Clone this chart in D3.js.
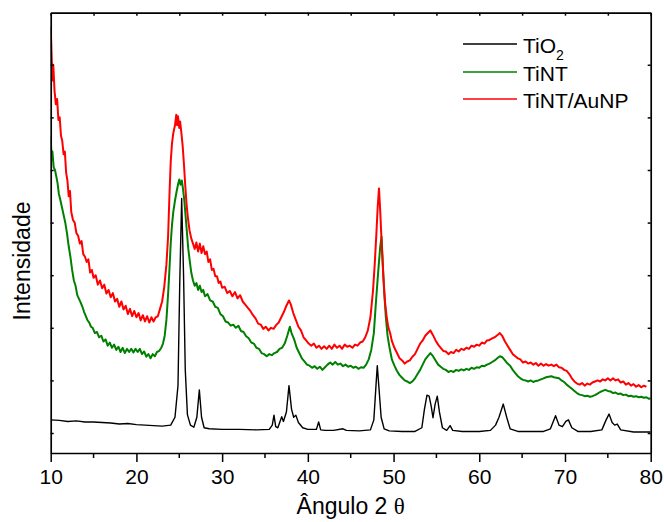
<!DOCTYPE html>
<html>
<head>
<meta charset="utf-8">
<script src="https://cdn.jsdelivr.net/npm/d3@7"></script>
<style>
  body { margin: 0; background: #fff; }
  text { font-family: Arial, "Liberation Sans", sans-serif; fill: #000; }
</style>
</head>
<body>
<div id="chart"></div>
<script>
// ---- data: [angle 2θ, intensity (a.u.)] ----
const tio2 = [[10,0.25],[11,0.24],[12,0.22],[13,0.23],[14,0.21],[15,0.21],[16,0.2],[17,0.19],[18,0.17],[19,0.18],[20,0.16],[21,0.15],[22,0.14],[23,0.13],[24,0.15],[24.5,0.3],[24.85,0.9],[25.05,2.8],[25.28,4.46],[25.5,3.0],[25.7,1.2],[25.95,0.35],[26.3,0.15],[26.7,0.11],[27.05,0.3],[27.34,0.82],[27.6,0.3],[27.9,0.1],[28.5,0.08],[30,0.07],[32,0.07],[34,0.06],[35.5,0.07],[35.85,0.15],[36.05,0.34],[36.25,0.12],[36.5,0.1],[36.95,0.31],[37.15,0.22],[37.5,0.4],[37.8,0.9],[38.1,0.45],[38.35,0.3],[38.6,0.34],[38.9,0.2],[39.4,0.1],[40,0.07],[41,0.07],[41.26,0.21],[41.5,0.06],[42,0.05],[43,0.05],[44.1,0.08],[44.5,0.05],[46,0.04],[47.3,0.06],[47.7,0.25],[47.95,0.9],[48.1,1.28],[48.3,0.85],[48.55,0.3],[48.9,0.08],[49.5,0.04],[51,0.03],[52.5,0.03],[53.3,0.1],[53.6,0.45],[53.9,0.72],[54.15,0.7],[54.4,0.5],[54.6,0.29],[54.85,0.55],[55.1,0.7],[55.35,0.4],[55.7,0.1],[56.2,0.05],[56.6,0.14],[56.9,0.05],[58,0.03],[60,0.03],[61.3,0.05],[61.9,0.15],[62.3,0.3],[62.8,0.55],[63.2,0.3],[63.6,0.08],[64.5,0.03],[66,0.03],[67.5,0.03],[68.3,0.08],[68.9,0.33],[69.3,0.15],[69.7,0.12],[70.1,0.22],[70.4,0.25],[70.8,0.1],[71.5,0.03],[73,0.03],[74.3,0.06],[74.8,0.25],[75.14,0.36],[75.5,0.2],[75.8,0.15],[76.1,0.17],[76.5,0.06],[78,0.02],[80,0.02]];

const tint = [[10,5.63],[10.1,5.2],[10.2,5.35],[10.35,5.05],[10.5,5.0],[10.65,4.88],[10.8,4.75],[10.95,4.55],[11.1,4.45],[11.3,4.3],[11.5,4.15],[11.7,4.0],[11.9,3.8],[12.1,3.55],[12.3,3.35],[12.5,3.1],[12.7,2.9],[12.9,2.8],[13.1,2.62],[13.3,2.55],[13.5,2.48],[13.7,2.4],[13.9,2.3],[14.1,2.22],[14.3,2.14],[14.5,2.1],[14.7,2.02],[14.9,2.0],[15.15,1.9],[15.4,1.92],[15.65,1.82],[15.9,1.85],[16.15,1.74],[16.4,1.78],[16.65,1.66],[16.9,1.72],[17.15,1.62],[17.4,1.68],[17.65,1.58],[17.9,1.64],[18.15,1.54],[18.4,1.62],[18.65,1.52],[18.9,1.6],[19.15,1.54],[19.4,1.6],[19.65,1.53],[19.9,1.6],[20.15,1.54],[20.4,1.6],[20.65,1.5],[20.9,1.55],[21.15,1.45],[21.4,1.5],[21.65,1.42],[21.9,1.5],[22.15,1.46],[22.4,1.54],[22.65,1.56],[22.9,1.62],[23.1,1.7],[23.3,1.85],[23.5,2.15],[23.7,2.65],[23.85,3.1],[24.0,3.6],[24.15,3.95],[24.3,4.2],[24.5,4.42],[24.7,4.6],[24.85,4.72],[25.0,4.82],[25.15,4.72],[25.3,4.8],[25.45,4.62],[25.6,4.4],[25.75,4.1],[25.9,3.8],[26.05,3.5],[26.2,3.3],[26.4,3.05],[26.6,2.9],[26.8,2.8],[27.0,2.85],[27.2,2.72],[27.4,2.8],[27.6,2.68],[27.8,2.72],[28.0,2.6],[28.3,2.64],[28.6,2.52],[28.9,2.5],[29.2,2.4],[29.5,2.38],[29.8,2.26],[30.1,2.22],[30.4,2.12],[30.7,2.1],[31.0,2.04],[31.3,2.06],[31.6,2.0],[31.9,2.04],[32.2,1.94],[32.5,1.92],[32.8,1.84],[33.1,1.8],[33.4,1.72],[33.7,1.7],[34.0,1.62],[34.3,1.6],[34.6,1.52],[34.9,1.5],[35.2,1.46],[35.5,1.5],[35.8,1.48],[36.1,1.52],[36.4,1.54],[36.7,1.6],[37.0,1.62],[37.3,1.7],[37.6,1.85],[37.9,2.02],[38.1,1.9],[38.4,1.78],[38.7,1.62],[39.0,1.52],[39.3,1.42],[39.6,1.36],[39.9,1.3],[40.2,1.28],[40.5,1.24],[40.8,1.27],[41.1,1.22],[41.4,1.26],[41.7,1.2],[42.0,1.25],[42.3,1.3],[42.6,1.34],[42.9,1.3],[43.2,1.35],[43.5,1.3],[43.8,1.32],[44.1,1.27],[44.4,1.3],[44.7,1.26],[45.0,1.28],[45.3,1.24],[45.6,1.26],[45.9,1.22],[46.2,1.25],[46.5,1.24],[46.8,1.3],[47.1,1.4],[47.4,1.58],[47.7,1.9],[47.95,2.5],[48.2,3.05],[48.45,3.55],[48.6,3.73],[48.75,3.2],[48.9,2.7],[49.1,2.2],[49.3,1.85],[49.5,1.65],[49.8,1.4],[50.1,1.28],[50.4,1.18],[50.7,1.1],[51.0,1.05],[51.3,1.0],[51.6,0.98],[51.9,0.95],[52.2,0.98],[52.5,1.04],[52.8,1.12],[53.1,1.2],[53.4,1.3],[53.7,1.4],[54.0,1.46],[54.3,1.52],[54.6,1.46],[54.9,1.38],[55.2,1.3],[55.5,1.26],[55.8,1.22],[56.1,1.2],[56.4,1.16],[56.7,1.18],[57.0,1.16],[57.3,1.2],[57.6,1.18],[57.9,1.21],[58.2,1.19],[58.5,1.22],[58.8,1.2],[59.1,1.24],[59.4,1.22],[59.7,1.25],[60.0,1.24],[60.3,1.28],[60.6,1.27],[60.9,1.3],[61.2,1.32],[61.5,1.35],[61.8,1.38],[62.1,1.42],[62.4,1.46],[62.7,1.44],[63.0,1.38],[63.3,1.32],[63.6,1.28],[63.9,1.2],[64.2,1.14],[64.5,1.08],[64.8,1.04],[65.1,1.01],[65.4,1.0],[65.7,0.98],[66.0,1.0],[66.3,0.97],[66.6,0.99],[66.9,1.0],[67.2,1.02],[67.5,1.04],[67.8,1.06],[68.1,1.07],[68.4,1.08],[68.7,1.06],[69.0,1.05],[69.3,1.04],[69.6,1.0],[69.9,0.97],[70.2,0.92],[70.5,0.88],[70.8,0.84],[71.1,0.8],[71.4,0.76],[71.7,0.73],[72.0,0.72],[72.3,0.7],[72.6,0.71],[72.9,0.69],[73.2,0.7],[73.5,0.72],[73.8,0.75],[74.1,0.78],[74.4,0.8],[74.7,0.82],[75.0,0.8],[75.3,0.79],[75.6,0.76],[75.9,0.77],[76.2,0.74],[76.5,0.75],[76.8,0.72],[77.1,0.73],[77.4,0.7],[77.7,0.71],[78.0,0.69],[78.3,0.7],[78.6,0.68],[78.9,0.69],[79.2,0.67],[79.5,0.68],[79.8,0.65],[80,0.66]];

const tintAu = [[10,7.72],[10.1,7.2],[10.2,6.7],[10.3,7.0],[10.45,6.5],[10.6,6.25],[10.75,6.35],[10.9,5.95],[11.05,6.0],[11.2,5.65],[11.35,5.55],[11.5,5.3],[11.65,5.35],[11.8,4.95],[11.95,4.8],[12.1,4.5],[12.25,4.6],[12.4,4.2],[12.6,4.05],[12.8,4.0],[13.0,3.8],[13.2,3.75],[13.4,3.6],[13.6,3.65],[13.8,3.4],[14.0,3.35],[14.2,3.25],[14.4,3.3],[14.6,3.05],[14.8,3.1],[15.0,2.95],[15.25,3.0],[15.5,2.82],[15.75,2.9],[16.0,2.75],[16.25,2.82],[16.5,2.65],[16.75,2.72],[17.0,2.58],[17.25,2.66],[17.5,2.5],[17.75,2.55],[18.0,2.4],[18.25,2.5],[18.5,2.35],[18.75,2.42],[19.0,2.26],[19.25,2.36],[19.5,2.22],[19.75,2.32],[20.0,2.2],[20.25,2.28],[20.5,2.14],[20.75,2.24],[21.0,2.12],[21.25,2.22],[21.5,2.1],[21.75,2.2],[22.0,2.12],[22.25,2.2],[22.5,2.22],[22.75,2.36],[23.0,2.5],[23.25,2.78],[23.5,3.2],[23.7,3.75],[23.85,4.5],[24.0,5.15],[24.15,5.5],[24.3,5.7],[24.5,5.85],[24.65,6.05],[24.75,5.85],[24.85,6.02],[25.0,5.8],[25.1,5.92],[25.25,5.7],[25.4,5.45],[25.55,5.1],[25.7,4.7],[25.85,4.35],[26.0,4.1],[26.2,3.85],[26.4,3.7],[26.6,3.6],[26.8,3.5],[27.0,3.62],[27.2,3.45],[27.4,3.6],[27.6,3.42],[27.8,3.55],[28.0,3.4],[28.2,3.45],[28.4,3.25],[28.6,3.3],[28.8,3.1],[29.0,3.12],[29.2,2.98],[29.4,2.98],[29.6,2.85],[29.8,2.88],[30.0,2.76],[30.3,2.78],[30.6,2.66],[30.9,2.7],[31.2,2.6],[31.5,2.68],[31.8,2.56],[32.1,2.62],[32.4,2.5],[32.7,2.44],[33.0,2.38],[33.3,2.32],[33.6,2.24],[33.9,2.18],[34.2,2.08],[34.5,2.06],[34.8,1.98],[35.1,2.02],[35.4,1.95],[35.7,2.0],[36.0,1.98],[36.3,2.05],[36.6,2.1],[36.9,2.2],[37.2,2.3],[37.5,2.42],[37.8,2.52],[38.0,2.45],[38.3,2.28],[38.6,2.15],[38.9,2.02],[39.2,1.95],[39.5,1.82],[39.8,1.76],[40.1,1.7],[40.4,1.66],[40.7,1.7],[41.0,1.62],[41.3,1.66],[41.6,1.6],[41.9,1.65],[42.2,1.6],[42.5,1.66],[42.8,1.6],[43.1,1.68],[43.4,1.62],[43.7,1.66],[44.0,1.6],[44.3,1.68],[44.6,1.64],[44.9,1.66],[45.2,1.62],[45.5,1.68],[45.8,1.66],[46.1,1.72],[46.4,1.74],[46.7,1.82],[47.0,1.95],[47.3,2.2],[47.6,2.7],[47.8,3.2],[48.0,3.8],[48.15,4.3],[48.3,4.65],[48.45,4.2],[48.6,3.65],[48.8,3.0],[49.0,2.5],[49.2,2.2],[49.4,2.0],[49.6,1.9],[49.8,1.75],[50.1,1.62],[50.4,1.52],[50.7,1.42],[51.0,1.38],[51.3,1.32],[51.6,1.36],[51.9,1.38],[52.2,1.45],[52.5,1.5],[52.8,1.6],[53.1,1.7],[53.4,1.76],[53.7,1.85],[54.0,1.9],[54.3,1.95],[54.6,1.86],[54.9,1.76],[55.2,1.68],[55.5,1.62],[55.8,1.56],[56.1,1.55],[56.4,1.5],[56.7,1.54],[57.0,1.52],[57.3,1.58],[57.6,1.55],[57.9,1.6],[58.2,1.58],[58.5,1.62],[58.8,1.6],[59.1,1.66],[59.4,1.64],[59.7,1.68],[60.0,1.66],[60.3,1.72],[60.6,1.7],[60.9,1.76],[61.2,1.77],[61.5,1.8],[61.8,1.82],[62.1,1.86],[62.4,1.9],[62.7,1.84],[63.0,1.74],[63.3,1.66],[63.6,1.58],[63.9,1.5],[64.2,1.46],[64.5,1.42],[64.8,1.4],[65.1,1.34],[65.4,1.36],[65.7,1.32],[66.0,1.34],[66.3,1.3],[66.6,1.33],[66.9,1.28],[67.2,1.32],[67.5,1.28],[67.8,1.31],[68.1,1.28],[68.4,1.3],[68.7,1.27],[69.0,1.3],[69.3,1.25],[69.6,1.24],[69.9,1.2],[70.2,1.18],[70.5,1.12],[70.8,1.04],[71.1,0.98],[71.4,0.94],[71.7,0.92],[72.0,0.95],[72.3,0.9],[72.6,0.94],[72.9,0.92],[73.2,0.96],[73.5,0.98],[73.8,1.0],[74.1,0.98],[74.4,1.02],[74.7,1.0],[75.0,1.04],[75.3,1.0],[75.6,1.04],[75.9,1.0],[76.2,1.02],[76.5,0.96],[76.8,0.98],[77.1,0.92],[77.4,0.95],[77.7,0.9],[78.0,0.93],[78.3,0.88],[78.6,0.91],[78.9,0.87],[79.2,0.9],[79.5,0.88]];

const seriesNames = ["TiO2", "TiNT", "TiNT/AuNP"];
const seriesColors = ["#000000", "#008000", "#ff0000"];
const xTicks = [10, 20, 30, 40, 50, 60, 70, 80];
const xMinorTicks = [15, 25, 35, 45, 55, 65, 75];
const yTicks = [0, 1, 2, 3, 4, 5, 6, 7];

const W = 664, H = 522;
const plot = { left: 50.7, right: 650.7, top: 12.7, bottom: 453 };

const svg = d3.select("#chart").append("svg")
  .attr("width", W).attr("height", H);

const x = d3.scaleLinear().domain([10, 80]).range([plot.left, plot.right]);
const y = d3.scaleLinear().domain([-0.38, 7.99]).range([plot.bottom, plot.top]);

// data lines (drawn first so the frame sits on top)
const line = d3.line().x(d => x(d[0])).y(d => y(d[1]));
svg.append("clipPath").attr("id", "clip").append("rect")
  .attr("x", plot.left).attr("y", plot.top)
  .attr("width", plot.right - plot.left).attr("height", plot.bottom - plot.top);

// noisy diffractograms look thicker than a plain line, so widen the coloured ones
const strokeW = [1.4, 2, 2];
const lines = svg.append("g").attr("clip-path", "url(#clip)");
[tio2, tint, tintAu].forEach((s, i) => {
  lines.append("path")
    .datum(s)
    .attr("d", line)
    .attr("fill", "none")
    .attr("stroke", seriesColors[i])
    .attr("stroke-width", strokeW[i])
    .attr("stroke-linejoin", "round");
});

// bottom axis: labelled major ticks out, minor ticks out
const xAxis = d3.axisBottom(x).tickValues(xTicks).tickSize(9).tickSizeOuter(0).tickPadding(7);
const gx = svg.append("g").attr("transform", `translate(0,${plot.bottom})`).call(xAxis);
gx.selectAll("text").style("font-size", "21px").attr("font-family", null);
gx.append("g").selectAll("line").data(xMinorTicks).join("line")
  .attr("x1", d => x(d)).attr("x2", d => x(d)).attr("y1", 0).attr("y2", 5)
  .attr("stroke", "#000").attr("stroke-width", 1.5);

// top axis: ticks every 5 pointing inward
svg.append("g").attr("transform", `translate(0,${plot.top})`)
  .call(d3.axisTop(x).tickValues(xTicks.concat(xMinorTicks)).tickSize(-3).tickSizeOuter(0).tickFormat(""));

// left / right axes: unlabelled inward ticks
svg.append("g").attr("transform", `translate(${plot.left},0)`)
  .call(d3.axisLeft(y).tickValues(yTicks).tickSize(-3).tickSizeOuter(0).tickFormat(""));
svg.append("g").attr("transform", `translate(${plot.right},0)`)
  .call(d3.axisRight(y).tickValues(yTicks).tickSize(-3).tickSizeOuter(0).tickFormat(""));

svg.selectAll(".domain").attr("stroke", "#000").attr("stroke-width", 1.7);
svg.selectAll(".tick line").attr("stroke", "#000").attr("stroke-width", 1.5);

// axis titles
const xTitle = svg.append("text")
  .attr("x", (plot.left + plot.right) / 2).attr("y", 514)
  .attr("text-anchor", "middle").style("font-size", "23px");
xTitle.append("tspan").text("Ângulo 2 ");
xTitle.append("tspan").style("font-family", "'Liberation Serif', 'DejaVu Serif', serif").text("θ");

svg.append("text")
  .attr("transform", "translate(30,261) rotate(-90)")
  .attr("text-anchor", "middle").style("font-size", "23px")
  .text("Intensidade");

// legend
const legendY = [44, 72, 99];
const legend = svg.append("g");
seriesNames.forEach((name, i) => {
  legend.append("line")
    .attr("x1", 463).attr("x2", 517).attr("y1", legendY[i]).attr("y2", legendY[i])
    .attr("stroke", seriesColors[i]).attr("stroke-width", 1.3);
  const t = legend.append("text").attr("x", 523).attr("y", legendY[i] + 9)
    .style("font-size", "21px");
  if (name === "TiO2") {
    t.append("tspan").text("TiO");
    t.append("tspan").attr("dy", 7).style("font-size", "14px").text("2");
  } else {
    t.text(name);
  }
});
</script>
</body>
</html>
